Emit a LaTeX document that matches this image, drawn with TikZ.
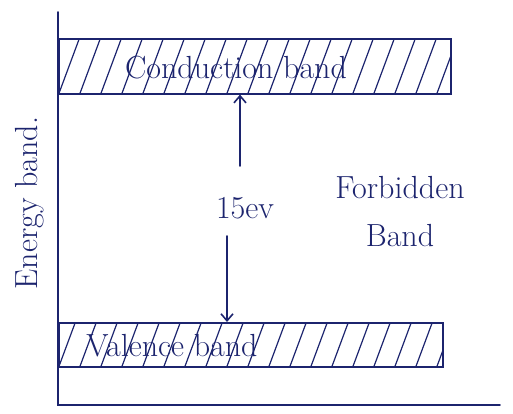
\documentclass[tikz,border=0pt]{standalone}
\usetikzlibrary{arrows.meta}
\definecolor{ink}{RGB}{28,36,110}
\begin{document}
\begin{tikzpicture}[x=1pt,y=-1pt,
  ink line/.style={draw=ink, line width=1.6pt, line cap=round},
  hatch/.style={ink line, inner sep=0pt, anchor=north west,
    path picture={
      \foreach \i in {-4,...,24}{
        \draw[ink, line width=1.2pt] ([xshift=\i*21pt]path picture bounding box.south west) -- ++(26pt,70pt);
      }}},
  lbl/.style={text=ink, font=\fontsize{32}{36}\selectfont},
  arr/.style={ink line, -{Straight Barb[length=7pt,width=12pt]}}]
\useasboundingbox (0,0) rectangle (513,414);
% axes
\coordinate (top) at (58,12);
\coordinate (origin) at (58,405);
\coordinate (xend) at (500,405);
\draw[ink line] (top) -- (origin) -- (xend);
% bands
\node[hatch, minimum width=392pt, minimum height=55pt] (cb) at (58,38) {};
\node[hatch, minimum width=384pt, minimum height=44pt] (vb) at (58,322) {};
\node[lbl, inner sep=1pt] (cbt) at (236,68) {Conduction band};
\node[lbl, inner sep=1pt] (vbt) at (172,346) {Valence band};
% gap
\node[lbl] (gap) at (245,208) {15ev};
\coordinate (ua) at (240,166);
\draw[arr] (ua) -- (cb.south -| ua);
\coordinate (da) at (227,236);
\draw[arr] (da) -- (vb.north -| da);
\node[lbl, align=center] (fb) at (400,212) {Forbidden\\[12pt]Band};
\node[lbl, rotate=90] (eb) at (30,203) {Energy band.};
\end{tikzpicture}
\end{document}
